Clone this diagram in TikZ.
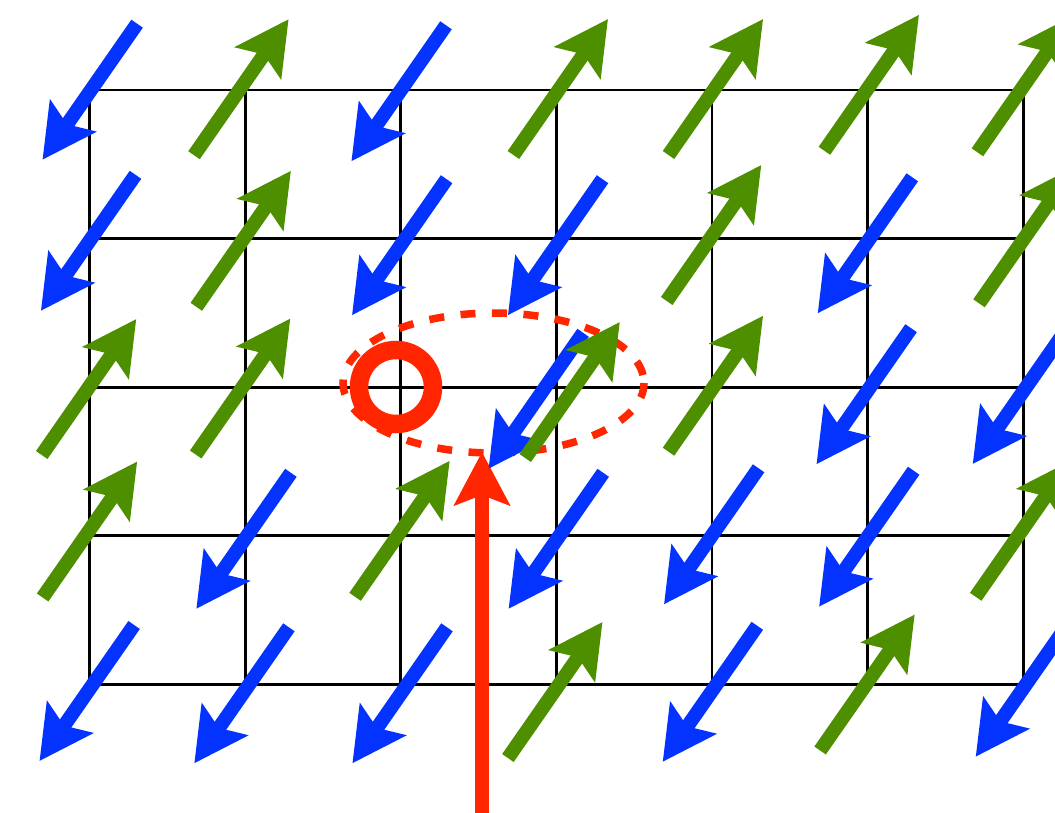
\documentclass[tikz,border=0pt]{standalone}
\usepackage{xcolor}
\usepackage{tikz}
\usetikzlibrary{arrows.meta}

\definecolor{spinblue}{RGB}{4,51,255}
\definecolor{spingreen}{RGB}{78,143,0}
\definecolor{flipred}{RGB}{255,38,0}

\begin{document}
\begin{tikzpicture}[x=1pt, y=-1pt,
    >={Stealth[length=53pt, width=55pt, inset=10pt]},
    gridline/.style={black, line width=2.8pt},
    spinup/.style={->, spingreen, line width=14pt},
    spindown/.style={<-, spinblue, line width=14pt}]
      \clip (0,0) rectangle (1055,813);

      % Lattice
      \foreach \i in {0,...,6} {
        \draw[gridline] (89.5+155.6*\i, 90) -- (89.5+155.6*\i, 684.4);
      }
      \foreach \j in {0,...,4} {
        \draw[gridline] (89.5, 90+148.6*\j) -- (1023.1, 90+148.6*\j);
      }

      % Flipped region
      \coordinate (hole) at (396,387);
      \coordinate (base) at (482,825);
      \coordinate (target) at (482,452);
      \draw[flipred, line width=7.5pt, dash pattern=on 15pt off 16.5pt] (493.5,383) ellipse [x radius=150.5, y radius=70];
      \draw[flipred, line width=18.5pt] (hole) circle [radius=37];
      \draw[->, flipred, line width=13.5pt] (base) -- (target);

      % Spins
      \foreach \cx/\cy/\s in {89.8/91.7/spindown, 241.3/87.2/spinup, 398.7/93.3/spindown, 560.7/87/spinup,
                              715.8/87/spinup, 871.7/82.8/spinup, 1024.7/84.3/spinup,
                              88.2/242.8/spindown, 243.6/238.8/spinup, 399.3/247.2/spindown, 555.2/247.2/spindown,
                              714/233/spinup, 865/245.3/spindown, 1026.3/235.3/spinup,
                              89/387/spinup, 243/386.5/spinup, 535.8/400.8/spindown, 572.5/390/spinup,
                              715.8/383.7/spinup, 863.8/396.2/spindown, 1020/396/spindown,
                              89.9/529.5/spinup, 243.6/540.8/spindown, 402.4/528.8/spinup, 555.9/540.8/spindown,
                              711.3/536.3/spindown, 866.4/538.7/spindown, 1023/528.8/spinup,
                              86.8/693/spindown, 241.6/695.3/spindown, 399.7/695.3/spindown, 555.2/690/spinup,
                              710/693.8/spindown, 867.4/682.5/spinup, 1023/688.7/spindown} {
        \draw[\s] (\cx-47.3, \cy+68) -- (\cx+47.3, \cy-68);
      }
\end{tikzpicture}
\end{document}
